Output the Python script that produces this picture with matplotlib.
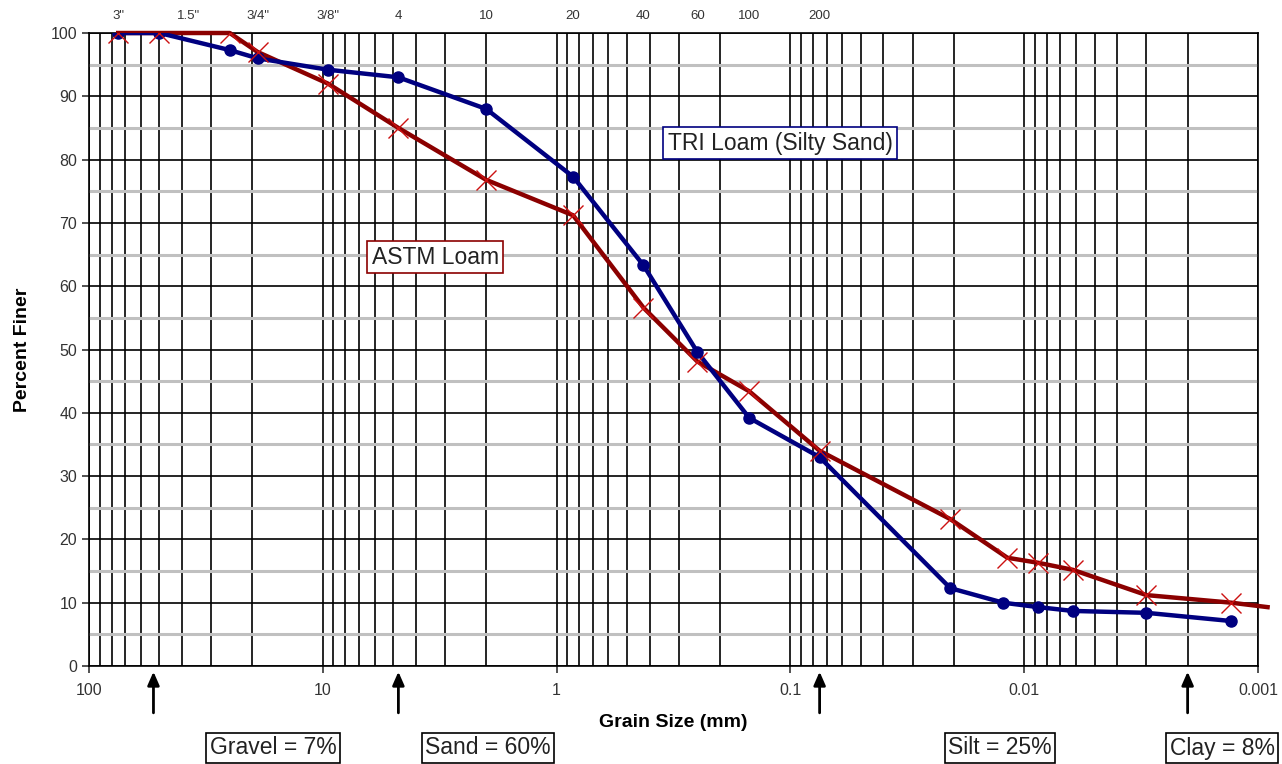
import matplotlib
matplotlib.use("Agg")
from matplotlib import pyplot as plt
from matplotlib.ticker import LogLocator, MultipleLocator, FuncFormatter, NullFormatter

plt.rcParams['font.family'] = ['Liberation Sans', 'DejaVu Sans']

# TRI Loam (Silty Sand) - grain size (mm) vs percent finer
tri_size = [75, 50, 25, 19, 9.5, 4.75, 2.0, 0.85, 0.425, 0.25, 0.15, 0.075,
            0.0207, 0.0123, 0.0087, 0.0062, 0.0030, 0.0013]
tri_finer = [100, 100, 97.3, 96, 94.2, 93, 88, 77.3, 63.3, 49.6, 39.2, 33,
             12.3, 10.0, 9.3, 8.7, 8.4, 7.1]

# ASTM Loam
astm_size = [75, 50, 25, 19, 9.5, 4.75, 2.0, 0.85, 0.425, 0.25, 0.15, 0.075,
             0.0207, 0.0118, 0.0087, 0.0062, 0.0030, 0.0013, 0.00091]
astm_finer = [100, 100, 100, 97, 92, 85, 76.8, 71.2, 56.6, 48.1, 43.4, 34,
              23.2, 17.1, 16.3, 15.2, 11.2, 10.0, 9.3]

# sieve labels on top
sieve_size = [75, 37.5, 19, 9.5, 4.75, 2.0, 0.85, 0.425, 0.25, 0.15, 0.075]
sieve_label = ['3"', '1.5"', '3/4"', '3/8"', '4', '10', '20', '40', '60', '100', '200']

# soil fraction boundaries (arrows) and results
boundaries = [53, 4.75, 0.075, 0.002]
fractions = ['Gravel = 7%', 'Sand = 60%', 'Silt = 25%', 'Clay = 8%']
fraction_x = [273, 488, 1000, 1222]  # box centres in pixels

W, H = 1282, 764
fig = plt.figure(figsize=(W / 100, H / 100), dpi=100)
ax = fig.add_axes([89 / W, 98 / H, 1169 / W, 633 / H])

ax.set_xscale('log')
ax.set_xlim(100, 0.001)
ax.set_ylim(0, 100)

ax.xaxis.set_major_locator(LogLocator(base=10, numticks=10))
ax.xaxis.set_minor_locator(LogLocator(base=10, subs=range(2, 10), numticks=20))
ax.xaxis.set_major_formatter(FuncFormatter(lambda v, p: '%g' % v))
ax.xaxis.set_minor_formatter(NullFormatter())
ax.yaxis.set_major_locator(MultipleLocator(10))
ax.yaxis.set_minor_locator(MultipleLocator(5))

ax.grid(which='minor', axis='y', color='#c0c0c0', lw=2.2, zorder=0)
ax.grid(which='major', axis='y', color='black', lw=1.2, zorder=1)
ax.grid(which='both', axis='x', color='black', lw=1.2, zorder=1)
ax.set_axisbelow(True)

ax.tick_params(which='major', direction='out', length=5, width=1.2, labelsize=11.5,
               colors='#333333', labelcolor='#333333')
ax.tick_params(which='minor', length=0)
ax.tick_params(axis='x', pad=7)
for s in ax.spines.values():
    s.set_linewidth(1.2)

ax.set_xlabel('Grain Size (mm)', fontsize=14, fontweight='bold', labelpad=12)
ax.set_ylabel('Percent Finer', fontsize=14, fontweight='bold', labelpad=14)

top = ax.secondary_xaxis('top')
top.set_xticks(sieve_size)
top.set_xticklabels(sieve_label)
top.minorticks_off()
top.tick_params(length=0, pad=8, labelsize=9.5, labelcolor='#333333')
top.spines['top'].set_visible(False)

ax.plot(tri_size, tri_finer, color='#000080', lw=3.2, marker='o', ms=8, zorder=4)
ax.plot(astm_size, astm_finer, color='#8b0000', lw=3.2, zorder=3, clip_on=False)
ax.plot(astm_size[:-1], astm_finer[:-1], ls='none', marker='x', ms=15, mew=1,
        color='#cc1111', zorder=5)

ax.text(0.1107, 82.6, 'TRI Loam (Silty Sand)', fontsize=16.5, ha='center', va='center',
        color='#222222', zorder=6,
        bbox=dict(boxstyle='square,pad=0.2', fc='white', ec='#000080', lw=1.2))
ax.text(3.31, 64.6, 'ASTM Loam', fontsize=16.5, ha='center', va='center',
        color='#222222', zorder=6,
        bbox=dict(boxstyle='square,pad=0.2', fc='white', ec='#8b0000', lw=1.2))

for b in boundaries:
    ax.annotate('', xy=(b, -0.009), xycoords=('data', 'axes fraction'),
                xytext=(b, -0.074), textcoords=('data', 'axes fraction'),
                arrowprops=dict(arrowstyle='-|>,head_length=0.8,head_width=0.35',
                                lw=2, color='black', shrinkA=0, shrinkB=0),
                annotation_clip=False)

for t, px in zip(fractions, fraction_x):
    fig.text(px / W, 16 / H, t, fontsize=16.5, ha='center', va='center', color='#222222',
             bbox=dict(boxstyle='square,pad=0.15', fc='white', ec='black', lw=1.2))

fig.savefig('out.png', dpi=100)
